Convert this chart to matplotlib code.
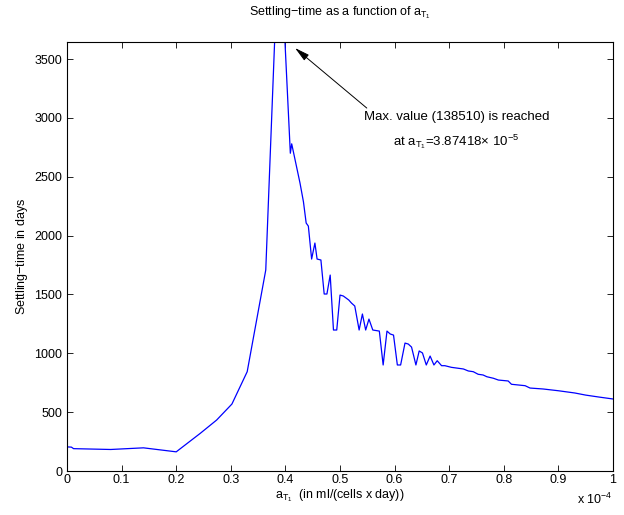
import numpy as np
import matplotlib
matplotlib.use("Agg")
import matplotlib.pyplot as plt

plt.rcParams['font.family'] = ['Liberation Sans', 'DejaVu Sans']
plt.rcParams['mathtext.fontset'] = 'custom'
plt.rcParams['mathtext.rm'] = 'Liberation Sans'
plt.rcParams['mathtext.it'] = 'Liberation Sans:italic'

# a_T1 in units of 1e-4 ml/(cells x day)
a_t1 = [0, 0.008, 0.012, 0.08, 0.14, 0.20, 0.244, 0.274, 0.302, 0.330, 0.364,
        0.3815, 0.3874, 0.398, 0.409, 0.4115, 0.4267, 0.433, 0.438, 0.442,
        0.448, 0.454, 0.458, 0.465, 0.471, 0.476, 0.482, 0.488, 0.494, 0.500,
        0.506, 0.516, 0.521, 0.527, 0.535, 0.541, 0.547, 0.553, 0.560, 0.572,
        0.579, 0.586, 0.592, 0.598, 0.605, 0.611, 0.619, 0.625, 0.631, 0.639,
        0.645, 0.651, 0.658, 0.665, 0.672, 0.678, 0.686, 0.692, 0.704, 0.726,
        0.735, 0.744, 0.753, 0.762, 0.769, 0.781, 0.790, 0.808, 0.814, 0.839,
        0.848, 0.872, 0.90, 0.93, 0.95, 0.975, 1.0]
settling = [205, 203, 190, 183, 197, 163, 320, 433, 569, 844, 1708,
            3800, 138510, 3760, 2700, 2780, 2447, 2288, 2107, 2081,
            1801, 1937, 1801, 1793, 1504, 1504, 1665, 1198, 1198, 1495,
            1487, 1453, 1427, 1402, 1198, 1334, 1198, 1291, 1198, 1189,
            901, 1189, 1164, 1155, 901, 901, 1087, 1079, 1053, 901,
            1020, 1003, 901, 977, 901, 937, 895, 895, 881, 867,
            850, 844, 822, 816, 801, 788, 773, 765, 737, 725,
            705, 697, 682, 663, 645, 628, 612]

xticks = np.arange(0, 1.01, 0.1)
xticklabels = ['0', '0.1', '0.2', '0.3', '0.4', '0.5', '0.6', '0.7', '0.8', '0.9', '1']
yticks = np.arange(0, 3501, 500)

fig = plt.figure(figsize=(6.24, 5.15), dpi=100)
ax = fig.add_axes([0.1074, 0.0854, 0.875, 0.833])

ax.plot(a_t1, settling, color='#0000ff', linewidth=0.9)

ax.set_xlim(0, 1)
ax.set_ylim(0, 3645)
ax.set_xticks(xticks)
ax.set_xticklabels(xticklabels)
ax.set_yticks(yticks)
ax.tick_params(direction='in', top=True, right=True, labelsize=9, length=4, width=0.6)
ax.tick_params(axis='x', pad=2)
for s in ax.spines.values():
    s.set_linewidth(0.8)

fig.text(0.545, 0.976, r'Settling$-$time as a function of a$_{\mathrm{T}_{\mathrm{1}}}$',
         ha='center', va='center', fontsize=9)
fig.text(0.545, 0.037, r'a$_{\mathrm{T}_{\mathrm{1}}}$  (in ml/(cells x day))',
         ha='center', va='center', fontsize=9)
fig.text(0.036, 0.503, r'Settling$-$time in days', rotation=90,
         ha='center', va='center', fontsize=9)
fig.text(0.982, 0.031, r'x 10$^{-4}$', ha='right', va='center', fontsize=9)

# annotation of the maximum
ax.annotate('', xy=(0.4176, 3594), xytext=(0.549, 3084),
            arrowprops=dict(arrowstyle='-|>,head_length=0.9,head_width=0.22',
                            color='black', lw=0.7, shrinkA=0, shrinkB=0))
ax.text(0.713, 3010, 'Max. value (138510) is reached', ha='center', va='center', fontsize=9.5)
ax.text(0.713, 2800, r'at a$_{\mathrm{T}_{\mathrm{1}}}$=3.87418$\times$ 10$^{-5}$',
        ha='center', va='center', fontsize=9.5)

fig.savefig('out.png', dpi=100)
